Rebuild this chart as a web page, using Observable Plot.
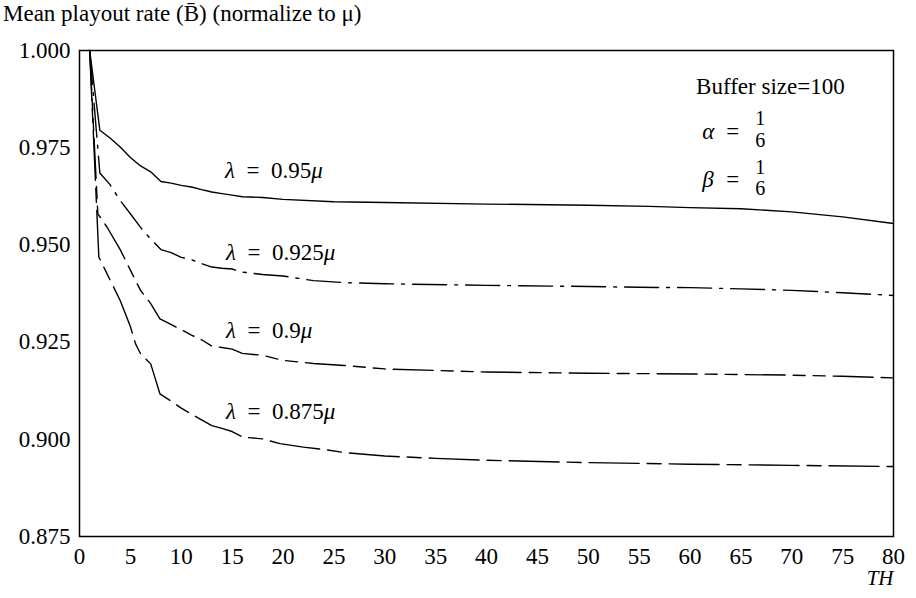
<!DOCTYPE html>
<html>
<head>
<meta charset="utf-8">
<script src="https://cdn.jsdelivr.net/npm/d3@7"></script>
<script src="https://cdn.jsdelivr.net/npm/@observablehq/plot@0.6"></script>
<style>
  html, body { margin: 0; padding: 0; background: white; }
  #wrap { position: relative; width: 916px; height: 598px; }
  #title { position: absolute; left: 3px; top: 1px; font-family: "Liberation Serif", "Times New Roman", Times, "DejaVu Serif", serif; font-size: 23px; color: black; white-space: nowrap; }
  svg text { font-family: "Liberation Serif", "Times New Roman", Times, "DejaVu Serif", serif; }
</style>
</head>
<body>
<div id="wrap">
  <div id="chart"></div>
  <div id="title">Mean playout rate (B&#x304;) (normalize to μ)</div>
</div>
<script>
// ---- data ----
const xTicks = [0, 5, 10, 15, 20, 25, 30, 35, 40, 45, 50, 55, 60, 65, 70, 75, 80];
const yTicks = [0.875, 0.900, 0.925, 0.950, 0.975, 1.000];

const th95 = [1,2,3,4,5,6,7,8,9,10,11,12,13,14,15,16,18,20,25,30,40,50,56,60,65,70,75,80];
const rate95 = [1.000,0.9795,0.9775,0.9752,0.9725,0.9703,0.9688,0.9663,0.9659,0.9653,0.9649,0.9642,0.9636,0.9632,0.9628,0.9624,0.9622,0.9617,0.9611,0.9609,0.9605,0.9602,0.9599,0.9596,0.9593,0.9585,0.9572,0.9555];

const th925 = [1,2,3,4,5,6,7,8,9,10,11,12,13,14,15,16,18,20,23,26,30,40,50,55,60,65,70,75,80];
const rate925 = [1.000,0.9685,0.9655,0.9614,0.958,0.9545,0.9515,0.9488,0.948,0.9468,0.9462,0.9452,0.9443,0.944,0.9438,0.943,0.9424,0.942,0.9408,0.9403,0.940,0.9396,0.9393,0.9391,0.939,0.9387,0.9383,0.9377,0.937];

const th90 = [1,1.8,2.7,4,5,6,7,7.9,8.6,10,11,12,13,14,15,16,18,20,23,26,30,40,50,60,70,75,80];
const rate90 = [1.000,0.958,0.9546,0.9488,0.9435,0.9383,0.9349,0.931,0.9301,0.9282,0.9268,0.9256,0.924,0.9236,0.9232,0.9221,0.9216,0.9203,0.9195,0.919,0.9181,0.9173,0.917,0.9168,0.9165,0.9162,0.9158];

const th875 = [1,1.9,3,4,5,5.5,6,7,7.9,8.9,10,11,12,13,14,15,16,18,19.7,22,24,26,30,35,40,50,60,70,80];
const rate875 = [1.000,0.9469,0.941,0.9357,0.929,0.9246,0.922,0.9194,0.9117,0.91,0.908,0.9065,0.905,0.9035,0.9028,0.902,0.9006,0.9001,0.8989,0.898,0.8974,0.8966,0.8957,0.8951,0.8946,0.894,0.8936,0.8933,0.893];

const curveLabels = ["λ = 0.95μ", "λ = 0.925μ", "λ = 0.9μ", "λ = 0.875μ"];
const labelTh = [14.3, 14.4, 14.4, 14.4];
const labelRate = [0.969, 0.948, 0.928, 0.907];

const legendTitle = "Buffer size=100";
const paramNames = ["α", "β"];
const paramNum = ["1", "1"];
const paramDen = ["6", "6"];

// ---- build tables ----
const toRows = (xs, ys) => xs.map((x, i) => ({th: x, rate: ys[i]}));
const series = [
  {rows: toRows(th95, rate95), dash: null},
  {rows: toRows(th925, rate925), dash: "34,8,3,8"},
  {rows: toRows(th90, rate90), dash: "40,8,12,8,12,8"},
  {rows: toRows(th875, rate875), dash: "50,8,14,8"}
];
const labelRows = curveLabels.map((t, i) => ({th: labelTh[i], rate: labelRate[i], text: t}));

const lineMarks = series.map(s => Plot.line(s.rows, {
  x: "th", y: "rate", stroke: "black", strokeWidth: 1.4,
  strokeDasharray: s.dash || undefined, curve: "linear"
}));

const chart = Plot.plot({
  width: 916,
  height: 598,
  marginLeft: 79,
  marginRight: 23,
  marginTop: 50,
  marginBottom: 62,
  style: {fontFamily: "'Liberation Serif', 'Times New Roman', 'DejaVu Serif', serif", fontSize: "23px", color: "black", background: "white"},
  x: {domain: [0, 80], ticks: xTicks, tickSize: 0, tickPadding: 11, label: null},
  y: {domain: [0.875, 1.0], ticks: yTicks, tickFormat: d3.format(".3f"), tickSize: 0, tickPadding: 9, label: null},
  marks: [
    ...lineMarks,
    Plot.frame({stroke: "black", strokeWidth: 1.5}),
    Plot.text(labelRows, {x: "th", y: "rate", text: "text", textAnchor: "start", fill: "black"}),
    Plot.text([legendTitle], {x: () => 60.6, y: () => 0.9906, text: d => d, textAnchor: "start", fill: "black"}),
    Plot.text(paramNames, {x: () => 61.2, y: (d, i) => [0.9792, 0.9668][i], text: d => d, textAnchor: "start", fill: "black"}),
    Plot.text(paramNames, {x: () => 64.2, y: (d, i) => [0.9792, 0.9668][i], text: () => "=", textAnchor: "middle", fill: "black"}),
    Plot.text(paramNum, {x: () => 66.9, y: (d, i) => [0.9824, 0.9698][i], text: d => d, textAnchor: "middle", fontSize: 20, fill: "black"}),
    Plot.text(paramDen, {x: () => 66.9, y: (d, i) => [0.9768, 0.9646][i], text: d => d, textAnchor: "middle", fontSize: 20, fill: "black"}),
    Plot.text(["TH"], {x: () => 80, frameAnchor: "bottom", dy: 48, text: d => d, textAnchor: "end", fontStyle: "italic", fontSize: 21, fill: "black"})
  ]
});

// italicize Greek math symbols inside text and widen math spacing around "="
const NS = "http://www.w3.org/2000/svg";
chart.querySelectorAll("text").forEach(t => {
  if (t.children.length) return;
  const s = t.textContent;
  if (!/[λμαβ]/.test(s)) return;
  t.textContent = "";
  for (const part of s.split(/([λμαβ])/)) {
    if (!part) continue;
    const ts = document.createElementNS(NS, "tspan");
    if (/[λμαβ]/.test(part)) ts.setAttribute("font-style", "italic");
    ts.textContent = part.replace(" = ", "\u2002=\u2002");
    t.appendChild(ts);
  }
});

document.getElementById("chart").appendChild(chart);
</script>
</body>
</html>
